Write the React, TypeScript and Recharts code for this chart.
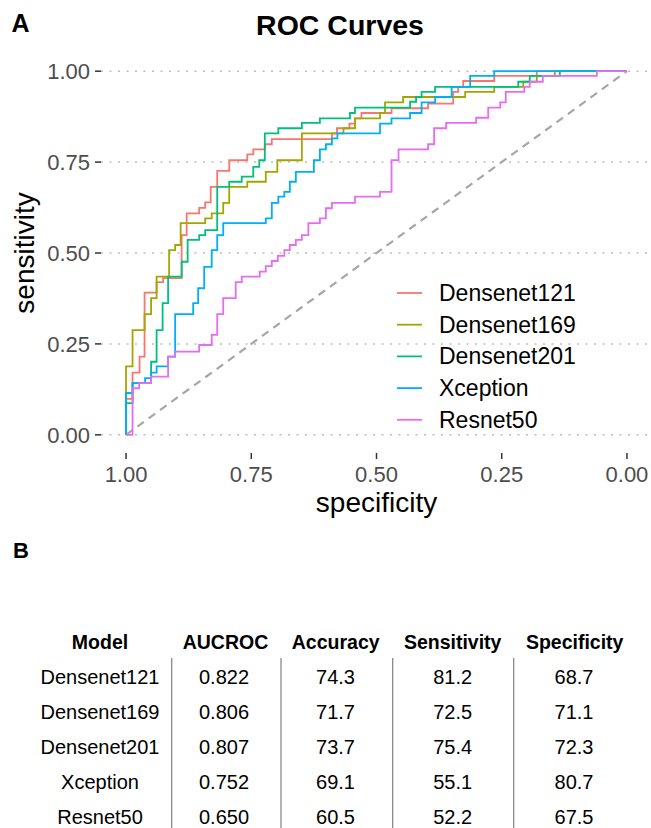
import React from 'react';
import { LineChart, Line, XAxis, YAxis, CartesianGrid, ReferenceLine, Legend } from 'recharts';

const FONT = '"Liberation Sans", Arial, Helvetica, sans-serif';

// ROC vertices: [specificity, sensitivity]
const densenet121: [number, number][] = [
  [1, 0], [1, 0.099], [0.987, 0.099], [0.987, 0.171], [0.973, 0.171], [0.973, 0.215], [0.963, 0.215], [0.963, 0.391],
  [0.939, 0.391], [0.939, 0.42], [0.926, 0.42], [0.926, 0.431], [0.889, 0.431], [0.889, 0.549], [0.879, 0.549],
  [0.879, 0.609], [0.854, 0.609], [0.854, 0.624], [0.842, 0.624], [0.842, 0.639], [0.831, 0.639], [0.831, 0.682],
  [0.818, 0.682], [0.818, 0.726], [0.794, 0.726], [0.794, 0.755], [0.758, 0.755], [0.758, 0.771], [0.746, 0.771],
  [0.746, 0.785], [0.723, 0.785], [0.723, 0.799], [0.709, 0.799], [0.709, 0.813], [0.589, 0.813], [0.589, 0.829],
  [0.579, 0.829], [0.579, 0.843], [0.554, 0.843], [0.554, 0.856], [0.543, 0.856], [0.543, 0.87], [0.53, 0.87],
  [0.53, 0.885], [0.47, 0.885], [0.47, 0.898], [0.397, 0.898], [0.397, 0.911], [0.347, 0.911], [0.347, 0.943],
  [0.337, 0.943], [0.337, 0.957], [0.327, 0.957], [0.327, 0.973], [0.265, 0.973], [0.265, 0.987], [0.18, 0.987],
  [0.18, 1], [0, 1],
];

const densenet169: [number, number][] = [
  [1, 0], [1, 0.188], [0.987, 0.188], [0.987, 0.288], [0.963, 0.288], [0.963, 0.332], [0.95, 0.332], [0.95, 0.376],
  [0.939, 0.376], [0.939, 0.435], [0.914, 0.435], [0.914, 0.508], [0.902, 0.508], [0.902, 0.522], [0.891, 0.522],
  [0.891, 0.582], [0.842, 0.582], [0.842, 0.595], [0.829, 0.595], [0.829, 0.609], [0.806, 0.609], [0.806, 0.638],
  [0.794, 0.638], [0.794, 0.682], [0.758, 0.682], [0.758, 0.696], [0.721, 0.696], [0.721, 0.723], [0.698, 0.723],
  [0.698, 0.755], [0.649, 0.755], [0.649, 0.829], [0.566, 0.829], [0.566, 0.843], [0.543, 0.843], [0.543, 0.87],
  [0.493, 0.87], [0.493, 0.885], [0.483, 0.885], [0.483, 0.914], [0.447, 0.914], [0.447, 0.929], [0.323, 0.929],
  [0.323, 0.943], [0.265, 0.943], [0.265, 0.957], [0.207, 0.957], [0.207, 0.971], [0.18, 0.971], [0.18, 0.987],
  [0.144, 0.987], [0.144, 1], [0, 1],
];

const densenet201: [number, number][] = [
  [1, 0], [1, 0.087], [0.987, 0.087], [0.987, 0.142], [0.95, 0.142], [0.95, 0.201], [0.939, 0.201], [0.939, 0.288],
  [0.927, 0.288], [0.927, 0.362], [0.916, 0.362], [0.916, 0.435], [0.889, 0.435], [0.889, 0.476], [0.877, 0.476],
  [0.877, 0.536], [0.854, 0.536], [0.854, 0.549], [0.842, 0.549], [0.842, 0.563], [0.818, 0.563], [0.818, 0.682],
  [0.794, 0.682], [0.794, 0.696], [0.769, 0.696], [0.769, 0.71], [0.746, 0.71], [0.746, 0.737], [0.734, 0.737],
  [0.734, 0.755], [0.723, 0.755], [0.723, 0.829], [0.696, 0.829], [0.696, 0.843], [0.649, 0.843], [0.649, 0.858],
  [0.613, 0.858], [0.613, 0.87], [0.553, 0.87], [0.553, 0.885], [0.543, 0.885], [0.543, 0.9], [0.433, 0.9],
  [0.433, 0.916], [0.421, 0.916], [0.421, 0.929], [0.41, 0.929], [0.41, 0.943], [0.383, 0.943], [0.383, 0.957],
  [0.217, 0.957], [0.217, 0.971], [0.194, 0.971], [0.194, 0.987], [0.134, 0.987], [0.134, 1], [0, 1],
];

const xception: [number, number][] = [
  [1, 0], [1, 0.115], [0.987, 0.115], [0.987, 0.142], [0.962, 0.142], [0.962, 0.156], [0.95, 0.156], [0.95, 0.171],
  [0.939, 0.171], [0.939, 0.188], [0.916, 0.188], [0.916, 0.215], [0.902, 0.215], [0.902, 0.332], [0.866, 0.332],
  [0.866, 0.362], [0.856, 0.362], [0.856, 0.403], [0.844, 0.403], [0.844, 0.462], [0.829, 0.462], [0.829, 0.508],
  [0.818, 0.508], [0.818, 0.549], [0.806, 0.549], [0.806, 0.582], [0.721, 0.582], [0.721, 0.595], [0.709, 0.595],
  [0.709, 0.638], [0.696, 0.638], [0.696, 0.655], [0.684, 0.655], [0.684, 0.668], [0.673, 0.668], [0.673, 0.696],
  [0.661, 0.696], [0.661, 0.723], [0.625, 0.723], [0.625, 0.755], [0.613, 0.755], [0.613, 0.785], [0.601, 0.785],
  [0.601, 0.799], [0.589, 0.799], [0.589, 0.815], [0.578, 0.815], [0.578, 0.829], [0.493, 0.829], [0.493, 0.856],
  [0.47, 0.856], [0.47, 0.87], [0.433, 0.87], [0.433, 0.885], [0.41, 0.885], [0.41, 0.914], [0.383, 0.914],
  [0.383, 0.929], [0.35, 0.929], [0.35, 0.957], [0.313, 0.957], [0.313, 0.987], [0.265, 0.987], [0.265, 1], [0, 1],
];

const resnet50: [number, number][] = [
  [1, 0], [0.987, 0], [0.987, 0.128], [0.974, 0.128], [0.974, 0.142], [0.95, 0.142], [0.95, 0.16], [0.916, 0.16],
  [0.916, 0.215], [0.902, 0.215], [0.902, 0.229], [0.854, 0.229], [0.854, 0.247], [0.829, 0.247], [0.829, 0.275],
  [0.818, 0.275], [0.818, 0.332], [0.806, 0.332], [0.806, 0.376], [0.781, 0.376], [0.781, 0.42], [0.769, 0.42],
  [0.769, 0.435], [0.733, 0.435], [0.733, 0.449], [0.721, 0.449], [0.721, 0.464], [0.709, 0.464], [0.709, 0.478],
  [0.697, 0.478], [0.697, 0.492], [0.684, 0.492], [0.684, 0.508], [0.673, 0.508], [0.673, 0.522], [0.661, 0.522],
  [0.661, 0.536], [0.649, 0.536], [0.649, 0.549], [0.636, 0.549], [0.636, 0.582], [0.613, 0.582], [0.613, 0.595],
  [0.601, 0.595], [0.601, 0.623], [0.589, 0.623], [0.589, 0.638], [0.543, 0.638], [0.543, 0.655], [0.493, 0.655],
  [0.493, 0.668], [0.47, 0.668], [0.47, 0.755], [0.456, 0.755], [0.456, 0.785], [0.397, 0.785], [0.397, 0.799],
  [0.385, 0.799], [0.385, 0.843], [0.361, 0.843], [0.361, 0.858], [0.301, 0.858], [0.301, 0.872], [0.277, 0.872],
  [0.277, 0.9], [0.253, 0.9], [0.253, 0.914], [0.242, 0.914], [0.242, 0.943], [0.205, 0.943], [0.205, 0.957],
  [0.194, 0.957], [0.194, 0.971], [0.168, 0.971], [0.168, 0.987], [0.06, 0.987], [0.06, 1], [0, 1],
];

const models = ['Densenet121', 'Densenet169', 'Densenet201', 'Xception', 'Resnet50'];
const curves = [densenet121, densenet169, densenet201, xception, resnet50];
const colors = ['#F8766D', '#A3A500', '#00BF7D', '#00B0F6', '#E76BF3'];
const axisTicks = [0, 0.25, 0.5, 0.75, 1];
const axisDomain: [number, number] = [-0.05, 1.05];

// Table B
const tableHeaders = ['Model', 'AUCROC', 'Accuracy', 'Sensitivity', 'Specificity'];
const aucroc = [0.822, 0.806, 0.807, 0.752, 0.65];
const accuracy = [74.3, 71.7, 73.7, 69.1, 60.5];
const sensitivityPct = [81.2, 72.5, 75.4, 55.1, 52.2];
const specificityPct = [68.7, 71.1, 72.3, 80.7, 67.5];

const series = models.map((name, i) => ({
  name,
  color: colors[i],
  data: curves[i].map(([spec, sens]) => ({ spec, sens })),
}));

const renderLegend = (props: any) => {
  const payload = props.payload || [];
  return (
    <svg width={230} height={170} style={{ display: 'block' }}>
      {payload.map((p: any, i: number) => {
        const cy = 21 + i * 31.7;
        return (
          <g key={p.value}>
            <line x1={7} x2={32} y1={cy} y2={cy} stroke={p.color} strokeWidth={1.8} />
            <text x={49} y={cy + 8} fontSize={23} fontFamily={FONT} fill="#000">
              {p.value}
            </text>
          </g>
        );
      })}
    </svg>
  );
};

const gridRows = (args: any) => {
  const yAxis = args && args.yAxis;
  if (yAxis && typeof yAxis.scale === 'function') {
    return axisTicks.map((t) => yAxis.scale(t));
  }
  const off = args.offset;
  return axisTicks.map(
    (t) => off.top + ((axisDomain[1] - t) / (axisDomain[1] - axisDomain[0])) * off.height
  );
};

const colCenters = [100, 224, 335.5, 452.7, 574];
const headerCenters = [100, 225.5, 335.7, 452.7, 574.7];
const dividers = [171.7, 281, 392.7, 513.7];

export default function App() {
  return (
    <div
      style={{
        position: 'absolute',
        left: 0,
        top: 0,
        width: 651,
        height: 828,
        overflow: 'hidden',
        background: '#fff',
        fontFamily: FONT,
      }}
    >
      <div style={{ position: 'absolute', left: 0, top: 0 }}>
        <LineChart width={652} height={523} margin={{ top: 53, right: 0, bottom: 0, left: 0 }}>
          <CartesianGrid
            vertical={false}
            horizontal
            horizontalCoordinatesGenerator={gridRows}
            stroke="#BDBDBD"
            strokeWidth={1.5}
            strokeDasharray="2 6.5"
          />
          <XAxis
            type="number"
            dataKey="spec"
            domain={axisDomain}
            reversed
            allowDataOverflow
            ticks={axisTicks}
            interval={0}
            tickFormatter={(v: number) => v.toFixed(2)}
            axisLine={false}
            tickLine={{ stroke: '#333333', strokeWidth: 1.5 }}
            tickSize={6}
            tickMargin={7}
            height={70}
            tick={{ fontSize: 22, fill: '#4D4D4D', fontFamily: FONT }}
          />
          <YAxis
            type="number"
            dataKey="sens"
            domain={axisDomain}
            allowDataOverflow
            ticks={axisTicks}
            interval={0}
            tickFormatter={(v: number) => v.toFixed(2)}
            axisLine={false}
            tickLine={{ stroke: '#333333', strokeWidth: 1.5 }}
            tickSize={6}
            tickMargin={5}
            width={101}
            tick={{ fontSize: 22, fill: '#4D4D4D', fontFamily: FONT }}
          />
          <ReferenceLine
            segment={[{ x: 1, y: 0 }, { x: 0, y: 1 }]}
            stroke="#A6A6A6"
            strokeWidth={2.2}
            strokeDasharray="8 6"
          />
          {series.map((s) => (
            <Line
              key={s.name}
              name={s.name}
              data={s.data}
              dataKey="sens"
              type="linear"
              stroke={s.color}
              strokeWidth={1.8}
              dot={false}
              activeDot={false}
              isAnimationActive={false}
            />
          ))}
          <Legend
            layout="vertical"
            align="center"
            verticalAlign="middle"
            itemSorter={(item: any) => models.indexOf(item.value)}
            wrapperStyle={{ left: 390, top: 272, width: 230, height: 170 }}
            content={renderLegend}
          />
        </LineChart>
      </div>
      <svg
        width={651}
        height={828}
        style={{ position: 'absolute', left: 0, top: 0, pointerEvents: 'none' }}
        fontFamily={FONT}
      >
        <text x={11.5} y={31.5} fontSize={25} fontWeight="bold" fill="#000">A</text>
        <text x={340} y={35} fontSize={28.5} fontWeight="bold" textAnchor="middle" fill="#000">
          ROC Curves
        </text>
        <text
          x={0}
          y={0}
          transform="translate(34,253) rotate(-90)"
          fontSize={28}
          textAnchor="middle"
          fill="#000"
        >
          sensitivity
        </text>
        <text x={376.5} y={512} fontSize={28} textAnchor="middle" fill="#000">
          specificity
        </text>
        <text x={13} y={558} fontSize={22} fontWeight="bold" fill="#000">B</text>
        {tableHeaders.map((h, i) => (
          <text
            key={h}
            x={headerCenters[i]}
            y={648.5}
            fontSize={19.5}
            fontWeight="bold"
            textAnchor="middle"
            fill="#000"
          >
            {h}
          </text>
        ))}
        {dividers.map((x) => (
          <line key={x} x1={x} x2={x} y1={658} y2={830} stroke="#808080" strokeWidth={1.2} />
        ))}
        {models.map((m, r) => {
          const y = 684 + r * 35;
          const cells = [
            m,
            aucroc[r].toFixed(3),
            accuracy[r].toFixed(1),
            sensitivityPct[r].toFixed(1),
            specificityPct[r].toFixed(1),
          ];
          return (
            <g key={m}>
              {cells.map((c, i) => (
                <text key={i} x={colCenters[i]} y={y} fontSize={20} textAnchor="middle" fill="#000">
                  {c}
                </text>
              ))}
            </g>
          );
        })}
      </svg>
    </div>
  );
}
